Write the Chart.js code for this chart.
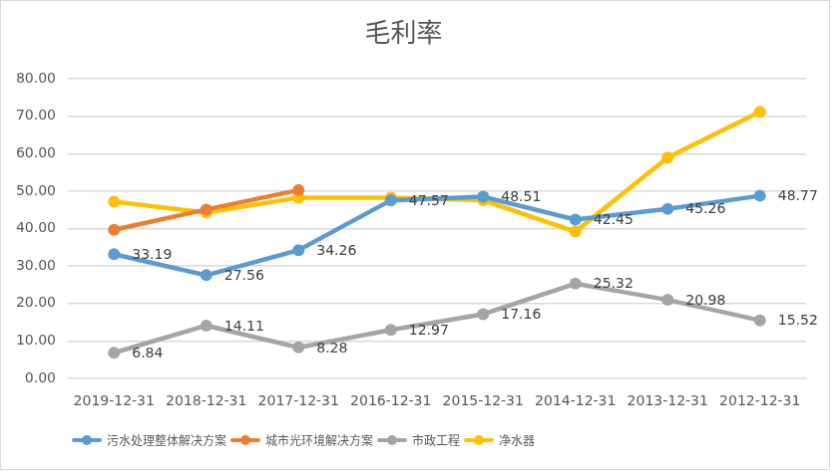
<!DOCTYPE html>
<html>
<head>
<meta charset="utf-8">
<script src="https://cdn.jsdelivr.net/npm/chart.js@4/dist/chart.umd.min.js"></script>
<style>
  body { margin: 0; background: #fff; }
  #grossChart { display: block; border: 1px solid #d9d9d9; }
</style>
</head>
<body>
<canvas id="grossChart" width="830" height="470"></canvas>
<script>
// 年份（从新到旧）
const labels = ['2019-12-31', '2018-12-31', '2017-12-31', '2016-12-31', '2015-12-31', '2014-12-31', '2013-12-31', '2012-12-31']
const seriesNames = ['污水处理整体解决方案', '城市光环境解决方案', '市政工程', '净水器']
const sewage = [33.19, 27.56, 34.26, 47.57, 48.51, 42.45, 45.26, 48.77]
const cityLight = [39.7, 45.1, 50.3, null, null, null, null, null]
const municipal = [6.84, 14.11, 8.28, 12.97, 17.16, 25.32, 20.98, 15.52]
const purifier = [47.2, 44.3, 48.3, 48.3, 47.6, 39.2, 59.0, 71.2]
const yTicks = [0, 10, 20, 30, 40, 50, 60, 70, 80]

const colors = ['#5B9BD5', '#ED7D31', '#A5A5A5', '#FFC000']
const numFont = 'DejaVu Sans'
const cjkFont = '"Noto Sans CJK SC", "Noto Sans", sans-serif'

// 图例里的 线+圆点 小图标
function makeIcon(color) {
    const c = document.createElement('canvas')
    c.width = 30
    c.height = 12
    const g = c.getContext('2d')
    g.strokeStyle = color
    g.lineWidth = 4
    g.lineCap = 'round'
    g.beginPath()
    g.moveTo(2, 6)
    g.lineTo(28, 6)
    g.stroke()
    g.fillStyle = color
    g.beginPath()
    g.arc(15, 6, 5, 0, Math.PI * 2)
    g.fill()
    return c
}
const legendIcons = colors.map(makeIcon)

// 数据标签（只给蓝色和灰色两条线）
const valueLabels = {
    id: 'valueLabels',
    afterDatasetsDraw(chart) {
        const ctx = chart.ctx
        ctx.save()
        ctx.font = '14px ' + numFont
        ctx.fillStyle = '#404040'
        ctx.textAlign = 'left'
        ctx.textBaseline = 'middle'
        chart.data.datasets.forEach((ds, i) => {
            if (!ds.showValues) return
            chart.getDatasetMeta(i).data.forEach((pt, j) => {
                const v = ds.data[j]
                if (v == null) return
                ctx.fillText(v.toFixed(2), pt.x + 18, pt.y + 1)
            })
        })
        ctx.restore()
    }
}

function makeSet(idx, data, showValues) {
    return {
        label: seriesNames[idx],
        data: data,
        borderColor: colors[idx],
        backgroundColor: colors[idx],
        borderWidth: 4.5,
        pointRadius: 6,
        pointHoverRadius: 6,
        pointBorderWidth: 0,
        tension: 0,
        spanGaps: false,
        showValues: showValues
    }
}

const ctx = document.getElementById('grossChart').getContext('2d')

const grossChart = new Chart(ctx, {
    type: 'line',
    data: {
        labels: labels,
        datasets: [
            makeSet(0, sewage, true),
            makeSet(1, cityLight, false),
            makeSet(2, municipal, true),
            makeSet(3, purifier, false)
        ]
    },
    options: {
        responsive: false,
        animation: false,
        layout: {
            padding: { left: 0, right: 23, top: 0, bottom: 13 }
        },
        scales: {
            x: {
                offset: true,
                grid: { display: false, drawTicks: false },
                border: { display: false },
                ticks: {
                    color: '#595959',
                    font: { family: numFont, size: 14 },
                    padding: 15,
                    maxRotation: 0,
                    autoSkip: false
                },
                afterFit: (scale) => { scale.height = 51 }
            },
            y: {
                min: 0,
                max: 80,
                afterBuildTicks: (scale) => { scale.ticks = yTicks.map(v => ({ value: v })) },
                grid: { color: '#d9d9d9', lineWidth: 1.5, drawTicks: false },
                border: { display: false },
                ticks: {
                    color: '#595959',
                    font: { family: numFont, size: 14 },
                    padding: 12,
                    callback: (v) => Number(v).toFixed(2)
                },
                afterFit: (scale) => { scale.width = 67 }
            }
        },
        plugins: {
            title: {
                display: true,
                text: '毛利率',
                color: '#595959',
                font: { family: cjkFont, size: 26, weight: 'normal' },
                padding: { top: 16, bottom: 31 }
            },
            legend: {
                position: 'bottom',
                align: 'start',
                fullSize: false,
                labels: {
                    color: '#595959',
                    font: { family: cjkFont, size: 12 },
                    usePointStyle: true,
                    pointStyleWidth: 28,
                    padding: 5,
                    generateLabels: (chart) => Chart.defaults.plugins.legend.labels.generateLabels(chart).map((item, i) => {
                        item.pointStyle = legendIcons[i]
                        return item
                    })
                }
            },
            tooltip: { enabled: false }
        }
    },
    plugins: [valueLabels]
})
</script>
</body>
</html>
